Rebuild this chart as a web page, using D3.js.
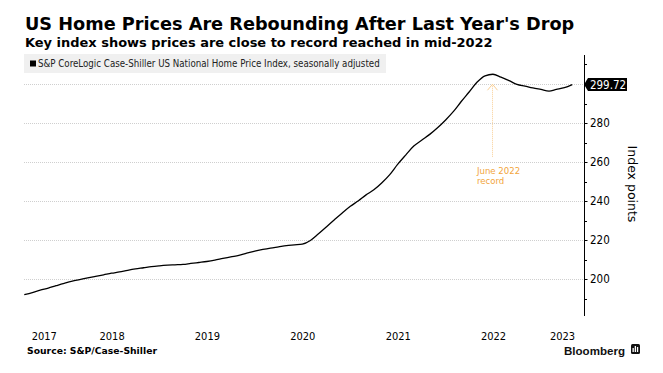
<!DOCTYPE html>
<html><head><meta charset="utf-8">
<script src="https://cdn.jsdelivr.net/npm/d3@7"></script>
<style>html,body{margin:0;padding:0;background:#fff;}svg{display:block;}</style>
</head><body>
<svg id="chart" width="663" height="373"></svg>
<script>
// ---- data ----
const title = "US Home Prices Are Rebounding After Last Year's Drop";
const subtitle = "Key index shows prices are close to record reached in mid-2022";
const legendLabel = "S&P CoreLogic Case-Shiller US National Home Price Index, seasonally adjusted";
const sourceText = "Source: S&P/Case-Shiller";
const firstMonth = "2017-07"; // monthly series, July 2017 .. April 2023
const indexValues = [
  192.1, 193.2, 194.4, 195.5, 196.7, 197.9,
  199.0, 199.8, 200.7, 201.5, 202.3, 203.1, 203.8, 204.6, 205.3, 205.9, 206.5, 206.9,
  207.2, 207.4, 207.6, 208.1, 208.6, 209.1, 209.8, 210.7, 211.5, 212.2, 213.4, 214.4,
  215.3, 216.0, 216.6, 217.2, 217.6, 218.0, 219.9, 223.3, 226.8, 230.5, 234.0, 237.4,
  240.2, 243.1, 245.8, 249.3, 253.6, 258.8, 263.6, 268.2, 271.2, 274.2, 277.6, 281.6,
  286.1, 290.9, 295.9, 300.9, 304.2, 305.0, 303.5, 301.7, 299.8, 298.9, 298.0, 297.2,
  296.4, 297.2, 298.1, 299.72
];
const yearLabels = ["2017", "2018", "2019", "2020", "2021", "2022", "2023"];
const yMajorTicks = [200, 220, 240, 260, 280, 300];
const yMinorTicks = [190, 210, 230, 250, 270, 290, 310];
const lastLabel = "299.72";
const recordMonth = "2022-06";
const recordNote = ["June 2022", "record"];
const yAxisTitle = "Index points";

// ---- build ----
const parseM = d3.timeParse("%Y-%m");
const start = parseM(firstMonth);
const monthStarts = d3.timeMonth.range(start, d3.timeMonth.offset(start, indexValues.length));
const series = indexValues.map((v, i) => ({date: d3.timeDay.offset(d3.timeMonth.offset(monthStarts[i], 1), -1), value: v}));

const svg = d3.select("#chart");
const L = 24, R = 584, T = 55, B = 316;
const x = d3.scaleTime().domain([new Date(2017, 6, 30), new Date(2023, 5, 14)]).range([L, R]);
const y = d3.scaleLinear().domain([181.2, 314.85]).range([B, T]);

const fontMain = "'DejaVu Sans', Verdana, sans-serif";

function fit(sel, w) {
  const n = sel.node();
  const fs = parseFloat(sel.attr("font-size"));
  const m = n.getComputedTextLength();
  if (m > 0) sel.attr("font-size", (fs * w / m).toFixed(2));
}

// titles
fit(svg.append("text").attr("x", 25).attr("y", 30).attr("font-family", fontMain)
  .attr("font-weight", "bold").attr("font-size", 19).attr("fill", "#000").text(title), 550);
fit(svg.append("text").attr("x", 25).attr("y", 46.5).attr("font-family", fontMain)
  .attr("font-weight", "bold").attr("font-size", 13).attr("fill", "#000").text(subtitle), 468);

// legend
svg.append("rect").attr("x", 24).attr("y", 54).attr("width", 362).attr("height", 19).attr("fill", "#f0f0f0");
svg.append("rect").attr("x", 30).attr("y", 60.5).attr("width", 6).attr("height", 6).attr("fill", "#000");
fit(svg.append("text").attr("x", 38).attr("y", 66.8).attr("font-family", "'DejaVu Sans Condensed', 'DejaVu Sans', sans-serif")
  .attr("font-size", 9.5).attr("fill", "#222").text(legendLabel), 342);

// gridlines
svg.append("g").selectAll("line").data(yMajorTicks).join("line")
  .attr("x1", L).attr("x2", R).attr("y1", d => Math.round(y(d)) + 0.5).attr("y2", d => Math.round(y(d)) + 0.5)
  .attr("stroke", "#cfcfcf").attr("stroke-width", 1).attr("stroke-dasharray", "1,1");

// right axis
const ax = svg.append("g").attr("transform", `translate(${R + 0.5},0)`);
ax.append("line").attr("x1", 0).attr("x2", 0).attr("y1", T).attr("y2", B).attr("stroke", "#000");
ax.selectAll("line.maj").data(yMajorTicks).join("line").attr("class", "maj")
  .attr("x1", 0).attr("x2", 3).attr("y1", d => Math.round(y(d)) + 0.5).attr("y2", d => Math.round(y(d)) + 0.5).attr("stroke", "#000");
ax.selectAll("line.min").data(yMinorTicks.filter(d => y(d) > T && y(d) < B)).join("line").attr("class", "min")
  .attr("x1", 0).attr("x2", 2.5).attr("y1", d => Math.round(y(d)) + 0.5).attr("y2", d => Math.round(y(d)) + 0.5).attr("stroke", "#000");
ax.selectAll("text").data(yMajorTicks.filter(d => d !== 300)).join("text")
  .attr("x", 5.5).attr("y", d => y(d)).attr("dy", "0.36em")
  .attr("font-family", "'DejaVu Sans Condensed', 'DejaVu Sans', sans-serif").attr("font-size", 11.5).attr("fill", "#000")
  .text(d => d);

// axis title
svg.append("text").attr("transform", `translate(628,184) rotate(90)`)
  .attr("text-anchor", "middle").attr("font-family", "'DejaVu Sans', sans-serif").attr("font-size", 12.5)
  .attr("fill", "#000").text(yAxisTitle);

// x year labels centred in visible part of each year
const xr = x.domain();
svg.append("g").selectAll("text").data(yearLabels).join("text")
  .attr("x", d => {
    const a = new Date(+d, 0, 1), b = new Date(+d + 1, 0, 1);
    const s = Math.max(x(a), L), e = Math.min(x(b), R);
    return (s + e) / 2;
  })
  .attr("y", 340).attr("text-anchor", "middle")
  .attr("font-family", "'DejaVu Sans Condensed', 'DejaVu Sans', sans-serif").attr("font-size", 11).attr("fill", "#000")
  .text(d => d);

// annotation
const recDate = d3.timeDay.offset(d3.timeMonth.offset(parseM(recordMonth), 1), -1);
const rec = series.find(d => +d.date === +recDate);
const ax0 = Math.round(x(rec.date)) - 0.5;
const orange = "#f2a53b";
const ya = y(rec.value) + 10;
svg.append("line").attr("x1", ax0).attr("x2", ax0).attr("y1", ya).attr("y2", 157)
  .attr("stroke", "#f9cf95").attr("stroke-width", 1).attr("stroke-dasharray", "1,1");
svg.append("path").attr("d", `M${ax0 - 5},${ya + 6}L${ax0},${ya}L${ax0 + 5},${ya + 6}`)
  .attr("fill", "none").attr("stroke", "#f9cf95").attr("stroke-width", 1);
svg.append("g").selectAll("text").data(recordNote).join("text")
  .attr("x", 477).attr("y", (d, i) => 173.5 + i * 10.5)
  .attr("font-family", "'DejaVu Sans Condensed', 'DejaVu Sans', sans-serif").attr("font-size", 9.5).attr("fill", orange)
  .text(d => d);

// line
svg.append("path").datum(series)
  .attr("d", d3.line().x(d => x(d.date)).y(d => y(d.value)).curve(d3.curveMonotoneX))
  .attr("fill", "none").attr("stroke", "#000").attr("stroke-width", 1.3).attr("stroke-linejoin", "round");

// last value label
const last = series[series.length - 1];
const ly = y(last.value);
svg.append("path")
  .attr("d", `M${R},${ly}L${R + 4},${ly - 6.5}L${R + 43},${ly - 6.5}L${R + 43},${ly + 6.5}L${R + 4},${ly + 6.5}Z`)
  .attr("fill", "#000");
svg.append("text").attr("x", R + 24).attr("y", ly).attr("dy", "0.36em").attr("text-anchor", "middle")
  .attr("font-family", "'DejaVu Sans Condensed', 'DejaVu Sans', sans-serif").attr("font-size", 11.5).attr("fill", "#fff")
  .text(lastLabel);

// footer
fit(svg.append("text").attr("x", 27).attr("y", 354).attr("font-family", fontMain)
  .attr("font-weight", "bold").attr("font-size", 8.5).attr("fill", "#000").text(sourceText), 130);
fit(svg.append("text").attr("x", 564).attr("y", 355).attr("font-family", "'Liberation Sans', Arial, sans-serif")
  .attr("font-weight", "bold").attr("font-size", 12.5).attr("fill", "#111").text("Bloomberg"), 61);
const logo = svg.append("g").attr("transform", "translate(631,344)");
logo.append("rect").attr("width", 9).attr("height", 10).attr("rx", 1.5).attr("fill", "#111");
logo.selectAll("rect.b").data([4, 6, 5]).join("rect").attr("class", "b")
  .attr("x", (d, i) => 1.5 + i * 2.2).attr("y", d => 8 - d).attr("width", 1.3).attr("height", d => d).attr("fill", "#fff");
</script>
</body></html>
